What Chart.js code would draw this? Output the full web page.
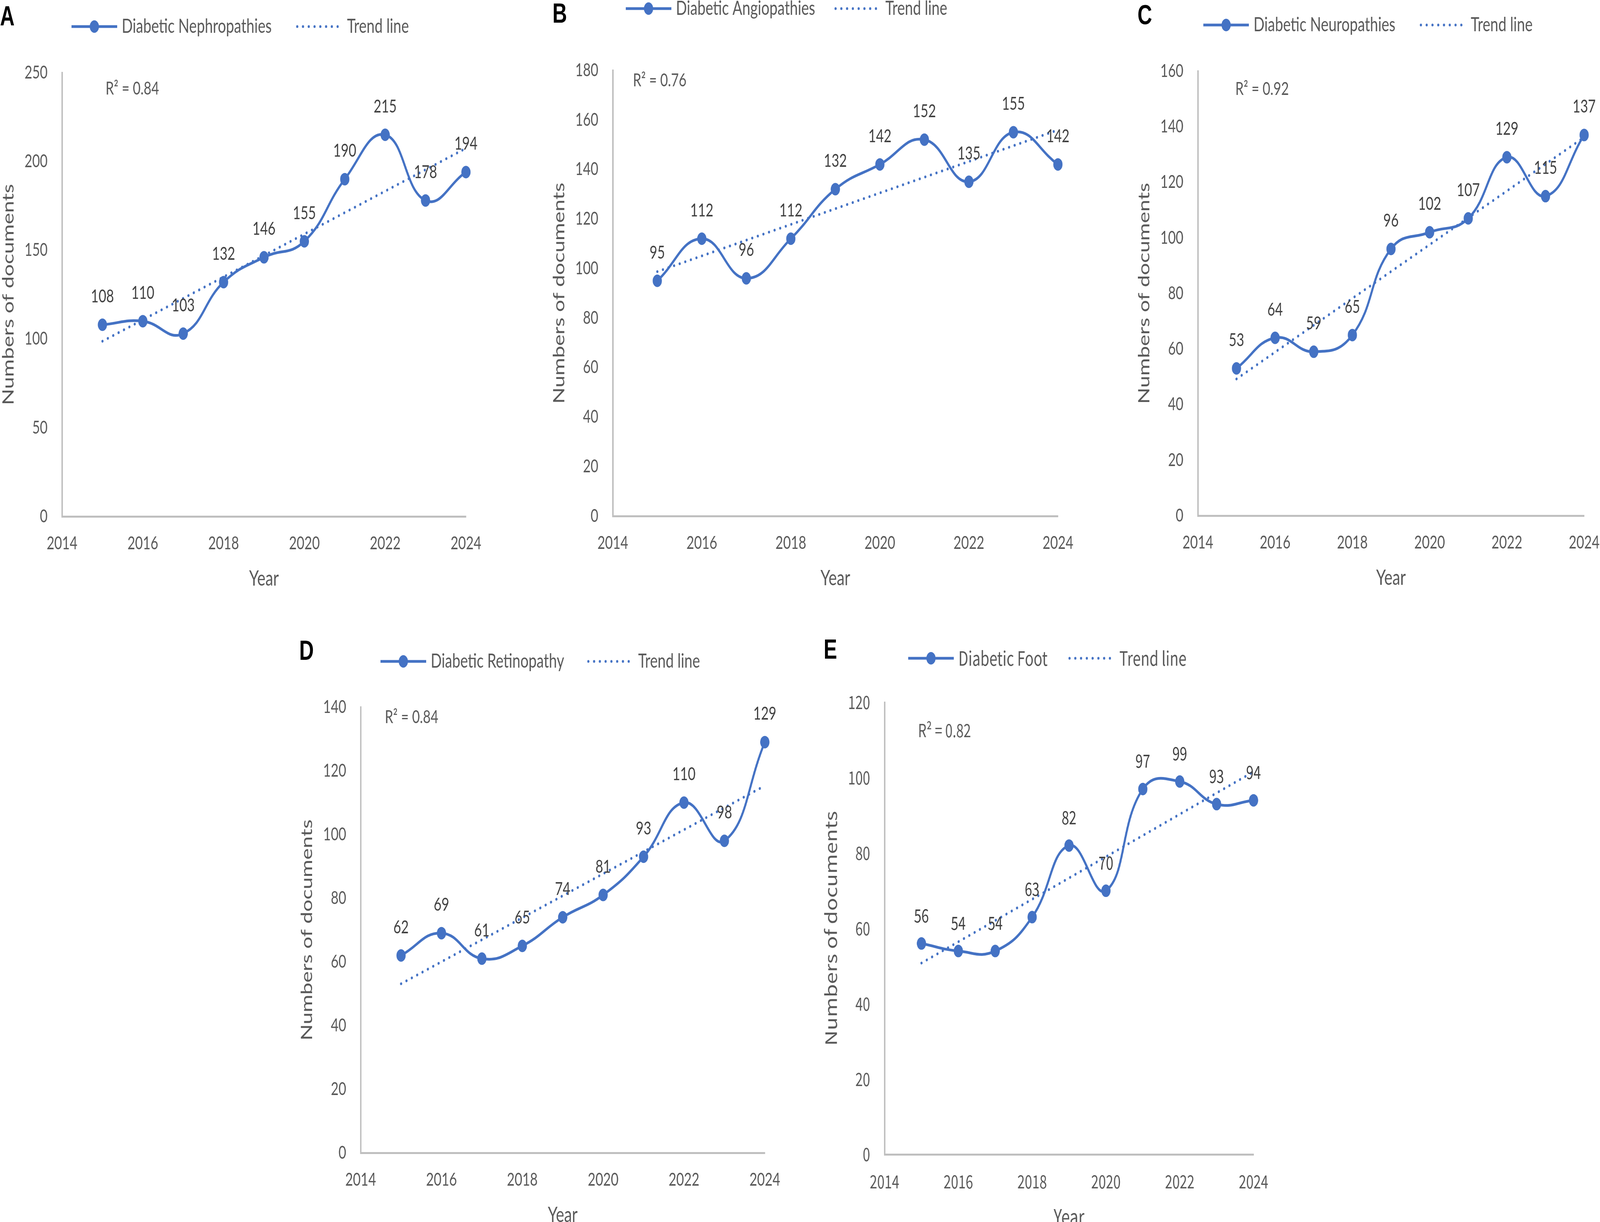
<!DOCTYPE html>
<html>
<head>
<meta charset="utf-8">
<script src="https://cdn.jsdelivr.net/npm/chart.js@4.4.1/dist/chart.umd.min.js"></script>
<style>
    html, body { margin: 0; padding: 0; background: #fff; overflow: hidden; }
    #page { position: absolute; left: 0; top: 0; width: 5546px; height: 3128px; transform-origin: 0 0; overflow: hidden; }
    canvas { position: absolute; }
    .letter { position: absolute; font: bold 70px "Liberation Sans", Arial, sans-serif; line-height: 70px; color: #000; }
</style>
</head>
<body>
<div id="page"></div>
<script>
// Data
const years = [2015, 2016, 2017, 2018, 2019, 2020, 2021, 2022, 2023, 2024];
const nephropathies = [108, 110, 103, 132, 146, 155, 190, 215, 178, 194];
const angiopathies = [95, 112, 96, 112, 132, 142, 152, 135, 155, 142];
const neuropathies = [53, 64, 59, 65, 96, 102, 107, 129, 115, 137];
const retinopathy = [62, 69, 61, 65, 74, 81, 93, 110, 98, 129];
const foot = [56, 54, 54, 63, 82, 70, 97, 99, 93, 94];

// Trend line ends (2015, 2024)
const trendNephropathies = [98.7, 207.4];
const trendAngiopathies = [98.7, 155.9];
const trendNeuropathies = [49.2, 136.2];
const trendRetinopathy = [53.1, 115.3];
const trendFoot = [50.8, 101.6];

const xTicks = [2014, 2016, 2018, 2020, 2022, 2024];
const yTicksA = [0, 50, 100, 150, 200, 250];
const yTicksB = [0, 20, 40, 60, 80, 100, 120, 140, 160, 180];
const yTicksC = [0, 20, 40, 60, 80, 100, 120, 140, 160];
const yTicksD = [0, 20, 40, 60, 80, 100, 120, 140];
const yTicksE = [0, 20, 40, 60, 80, 100, 120];

const blue = '#4472C4';
const tickGray = '#595959';
const labelGray = '#404040';
const axisGray = '#BFBFBF';

const PAGE_W = 5546, PAGE_H = 3128;
const PAD_TOP = 200, PAD_RIGHT = 110, PAD_BOTTOM = 20, AXIS_W = 219, AXIS_H = 192;

// plot = chart area in page px, legend = [line start x, y, trend start x]
const panels = [
    { id: 'A', name: 'Diabetic Nephropathies', values: nephropathies, trend: trendNephropathies, yTicks: yTicksA, r2: '0.84',
      plot: [215, 186, 1615, 1322], legend: [248, 68, 1030], r2Pos: [151, 41], letter: [0, 15], font: 'Lato' },
    { id: 'B', name: 'Diabetic Angiopathies', values: angiopathies, trend: trendAngiopathies, yTicks: yTicksB, r2: '0.76',
      plot: [2124, 180, 3667, 1321], legend: [2169, 22, 2896], r2Pos: [70, 26], letter: [1915, 8], font: 'Lato' },
    { id: 'C', name: 'Diabetic Neuropathies', values: neuropathies, trend: trendNeuropathies, yTicks: yTicksC, r2: '0.92',
      plot: [4152, 182, 5491, 1320], legend: [4171, 64, 4925], r2Pos: [130, 46], letter: [3943, 12], font: 'Lato' },
    { id: 'D', name: 'Diabetic Retinopathy', values: retinopathy, trend: trendRetinopathy, yTicks: yTicksD, r2: '0.84',
      plot: [1250, 1810, 2651, 2951], legend: [1319, 1693, 2039], r2Pos: [84, 26], letter: [1037, 1639], font: 'Lato' },
    { id: 'E', name: 'Diabetic Foot', values: foot, trend: trendFoot, yTicks: yTicksE, r2: '0.82',
      plot: [3066, 1798, 4345, 2955], legend: [3148, 1685, 3707], r2Pos: [116, 72], letter: [2855, 1636], font: '"Noto Sans CJK SC"' }
];

const page = document.getElementById('page');

// The window may be narrower than the figure: squeeze the page to fit it
function fitPage() {
    const sx = Math.min(1, window.innerWidth / PAGE_W);
    const sy = Math.min(1, window.innerHeight / PAGE_H);
    page.style.transform = `scale(${sx}, ${sy})`;
}

// Labels, R² and legend drawn on top of the datasets
function decorPlugin(p, offX, offY) {
    return {
        id: 'decor' + p.id,
        afterDatasetsDraw(chart) {
            const ctx = chart.ctx;
            const area = chart.chartArea;
            ctx.save();

            // data labels
            ctx.font = `46px ${p.font}`;
            ctx.fillStyle = labelGray;
            ctx.textAlign = 'center';
            ctx.textBaseline = 'middle';
            chart.getDatasetMeta(0).data.forEach((pt, i) => {
                ctx.fillText(String(p.values[i]), pt.x, pt.y - 72);
            });

            // R²
            ctx.textAlign = 'left';
            ctx.fillStyle = tickGray;
            ctx.fillText('R\u00B2 = ' + p.r2, area.left + p.r2Pos[0], area.top + p.r2Pos[1]);

            // legend
            const lx = p.legend[0] - offX, ly = p.legend[1] - offY, tx = p.legend[2] - offX;
            ctx.strokeStyle = blue;
            ctx.fillStyle = blue;
            ctx.lineWidth = 7;
            ctx.beginPath();
            ctx.moveTo(lx, ly);
            ctx.lineTo(lx + 158, ly);
            ctx.stroke();
            ctx.beginPath();
            ctx.arc(lx + 79, ly, 16, 0, Math.PI * 2);
            ctx.fill();
            ctx.beginPath();
            ctx.setLineDash([0.5, 19.5]);
            ctx.lineCap = 'round';
            ctx.moveTo(tx, ly);
            ctx.lineTo(tx + 145, ly);
            ctx.stroke();
            ctx.setLineDash([]);
            ctx.font = `50px ${p.font}`;
            ctx.fillStyle = tickGray;
            ctx.fillText(p.name, lx + 174, ly);
            ctx.fillText('Trend line', tx + 173, ly);

            ctx.restore();
        }
    };
}

function createPanel(p) {
    const [left, top, right, bottom] = p.plot;
    const offX = left - AXIS_W, offY = top - PAD_TOP;
    const canvas = document.createElement('canvas');
    canvas.width = right - left + AXIS_W + PAD_RIGHT;
    canvas.height = bottom - top + PAD_TOP + AXIS_H + PAD_BOTTOM;
    canvas.style.left = offX + 'px';
    canvas.style.top = offY + 'px';
    page.appendChild(canvas);

    const tickFont = { family: p.font.replace(/"/g, ''), size: 46 };
    new Chart(canvas, {
        type: 'line',
        data: {
            datasets: [
                {
                    label: p.name,
                    data: years.map((y, i) => ({ x: y, y: p.values[i] })),
                    borderColor: blue,
                    backgroundColor: blue,
                    borderWidth: 7,
                    pointRadius: 16,
                    pointBorderWidth: 0,
                    pointBackgroundColor: blue,
                    tension: 0.45,
                    clip: false,
                    order: 1
                },
                {
                    label: 'Trend line',
                    data: [{ x: years[0], y: p.trend[0] }, { x: years[years.length - 1], y: p.trend[1] }],
                    borderColor: blue,
                    borderWidth: 7,
                    borderDash: [0.5, 19.5],
                    borderCapStyle: 'round',
                    pointRadius: 0,
                    tension: 0,
                    clip: false,
                    order: 0
                }
            ]
        },
        options: {
            responsive: false,
            animation: false,
            devicePixelRatio: 1,
            layout: { padding: { top: PAD_TOP, right: PAD_RIGHT, bottom: PAD_BOTTOM, left: 0 } },
            plugins: { legend: { display: false }, tooltip: { enabled: false } },
            scales: {
                x: {
                    type: 'linear',
                    min: 2014,
                    max: 2024,
                    afterBuildTicks: s => { s.ticks = xTicks.map(v => ({ value: v })); },
                    afterFit: s => { s.height = AXIS_H; },
                    grid: { display: false, drawTicks: false },
                    border: { color: axisGray, width: 5 },
                    ticks: { padding: 42, color: tickGray, font: tickFont, maxRotation: 0, autoSkip: false, callback: v => String(v) },
                    title: { display: true, text: 'Year', color: tickGray, font: { family: tickFont.family, size: 54 }, padding: 0 }
                },
                y: {
                    min: 0,
                    max: p.yTicks[p.yTicks.length - 1],
                    afterBuildTicks: s => { s.ticks = p.yTicks.map(v => ({ value: v })); },
                    afterFit: s => { s.width = AXIS_W; },
                    grid: { display: false, drawTicks: false },
                    border: { color: axisGray, width: 5 },
                    ticks: { padding: 50, color: tickGray, font: tickFont, callback: v => String(v) },
                    title: { display: true, text: 'Numbers of documents', color: tickGray, font: { family: tickFont.family, size: 55 }, padding: 0 }
                }
            }
        },
        plugins: [decorPlugin(p, offX, offY)]
    });

    const letter = document.createElement('div');
    letter.className = 'letter';
    letter.textContent = p.id;
    letter.style.left = p.letter[0] + 'px';
    letter.style.top = (p.letter[1] - 9) + 'px';
    page.appendChild(letter);
}

fitPage();
document.fonts.ready.then(() => panels.forEach(createPanel));
</script>
</body>
</html>
